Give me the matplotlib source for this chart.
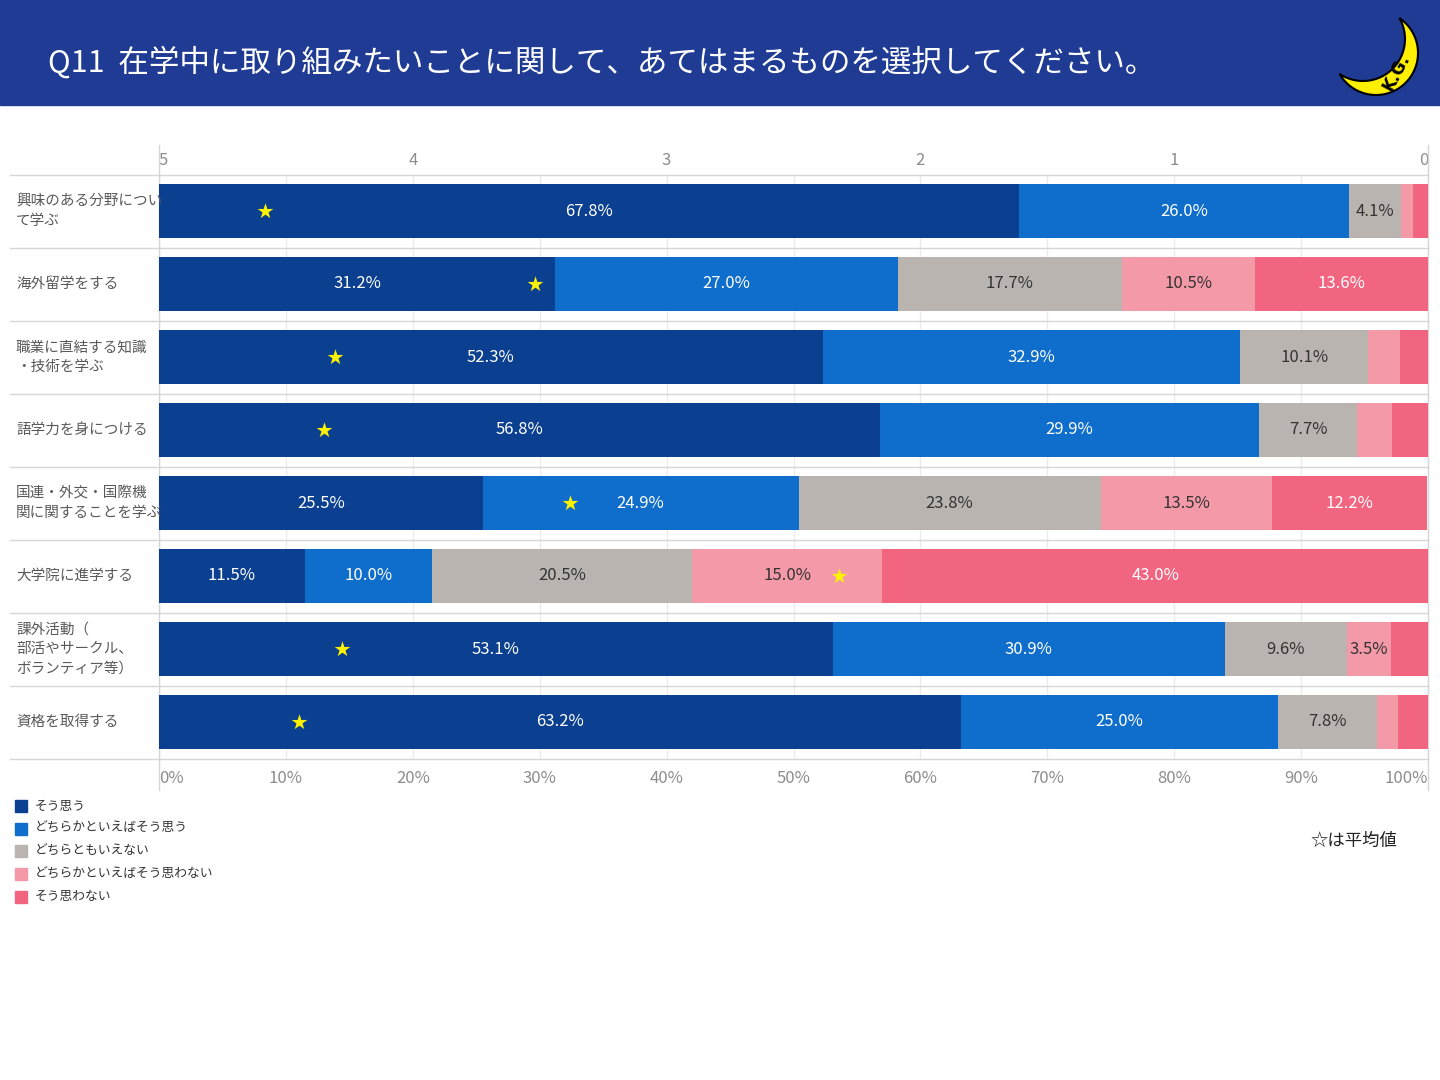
import matplotlib.pyplot as plt
import numpy as np
from matplotlib.patches import Rectangle, Polygon

plt.rcParams['font.family'] = ['Noto Sans CJK JP', 'DejaVu Sans']

# データ
title = 'Q11  在学中に取り組みたいことに関して、あてはまるものを選択してください。'
categories = ['興味のある分野につい\nて学ぶ', '海外留学をする', '職業に直結する知識\n・技術を学ぶ',
              '語学力を身につける', '国連・外交・国際機\n関に関することを学ぶ', '大学院に進学する',
              '課外活動（\n部活やサークル、\nボランティア等）', '資格を取得する']
levels = ['そう思う', 'どちらかといえばそう思う', 'どちらともいえない',
          'どちらかといえばそう思わない', 'そう思わない']
scores = [5, 4, 3, 2, 1]
agree = [67.8, 31.2, 52.3, 56.8, 25.5, 11.5, 53.1, 63.2]
rather_agree = [26.0, 27.0, 32.9, 29.9, 24.9, 10.0, 30.9, 25.0]
neutral = [4.1, 17.7, 10.1, 7.7, 23.8, 20.5, 9.6, 7.8]
rather_disagree = [0.9, 10.5, 2.5, 2.8, 13.5, 15.0, 3.5, 1.6]
disagree = [1.2, 13.6, 2.2, 2.8, 12.2, 43.0, 2.9, 2.4]
pct_ticks = list(range(0, 101, 10))
score_ticks = [5, 4, 3, 2, 1, 0]

series = [agree, rather_agree, neutral, rather_disagree, disagree]
colors = ['#0B3F8F', '#0F6DCB', '#BAB4B0', '#F499A8', '#F26581']
text_colors = ['white', 'white', '#333333', '#333333', 'white']
line_col = '#d6d6d6'

fig = plt.figure(figsize=(14.4, 10.8), dpi=100)

# 背景（ピクセル座標）
bg = fig.add_axes([0, 0, 1, 1])
bg.set_xlim(0, 1440)
bg.set_ylim(1080, 0)
bg.axis('off')

bg.add_patch(Rectangle((0, 0), 1440, 105, color='#1F3B94'))
bg.text(48, 62, title, color='white', fontsize=22, va='center', ha='left')

# ロゴ（三日月）
c1 = np.array([1376.0, 53.0])
c2 = np.array([1363.0, 39.0])
r = 42.0
mid = (c1 + c2) / 2
d = c1 - c2
dist = np.linalg.norm(d)
h = np.sqrt(r ** 2 - (dist / 2) ** 2)
perp = np.array([-d[1], d[0]]) / dist
pa, pb = mid + perp * h, mid - perp * h
th_d = np.arctan2(d[1], d[0])


def arc(c, p_from, p_to):
    a0 = np.angle(np.exp(1j * (np.arctan2(*(p_from - c)[::-1]) - th_d)))
    a1 = np.angle(np.exp(1j * (np.arctan2(*(p_to - c)[::-1]) - th_d)))
    t = np.linspace(a0, a1, 80) + th_d
    return np.column_stack([c[0] + r * np.cos(t), c[1] + r * np.sin(t)])


crescent = np.vstack([arc(c1, pa, pb), arc(c2, pb, pa)])
bg.add_patch(Polygon(crescent, closed=True, facecolor='#FFEF00', edgecolor='black', linewidth=1.5))
bg.text(1396, 72, 'K.G.', rotation=62, fontsize=12, ha='center', va='center',
        fontweight='bold', color='black', family=['DejaVu Sans'])

# 凡例
for i, (lab, col) in enumerate(zip(levels, colors)):
    yy = 806 + 22.7 * i
    bg.add_patch(Rectangle((15, yy - 6), 12, 12, color=col))
    bg.text(35, yy, lab, fontsize=9.2, va='center', ha='left', color='#333333')

bg.text(1310, 841, '☆は平均値', fontsize=12.5, va='center', ha='left', color='#222222')

# グラフ本体
n = len(categories)
ax = fig.add_axes([159 / 1440, 1 - 758.5 / 1080, 1269 / 1440, 584 / 1080])
ax.set_xlim(0, 100)
ax.set_ylim(n - 0.5, -0.5)
ax.patch.set_alpha(0)
for s in ax.spines.values():
    s.set_visible(False)

y = np.arange(n)
left = np.zeros(n)
for vals, col, tcol in zip(series, colors, text_colors):
    vals = np.array(vals)
    ax.barh(y, vals, left=left, height=0.75, color=col, zorder=2)
    for yi, v, l in zip(y, vals, left):
        if v >= 3:
            ax.text(l + v / 2, yi, f'{v:.1f}%', ha='center', va='center',
                    color=tcol, fontsize=12, zorder=3)
    left += vals

# 平均値（星）
vals_arr = np.array(series)
means = (np.array(scores)[:, None] * vals_arr).sum(axis=0) / vals_arr.sum(axis=0)
ax.scatter((5 - means) * 20, y, marker='*', s=140, color='#FFF200', linewidths=0, zorder=4)

# 区切り線
for b in np.arange(-0.5, n, 1.0):
    ax.axhline(b, xmin=-0.1174, xmax=1, color=line_col, lw=1, clip_on=False, zorder=1)
for xv in [0, 100]:
    ax.axvline(xv, ymin=-0.054, ymax=1.05, color=line_col, lw=1, clip_on=False, zorder=1)

ax.set_xticks(pct_ticks, labels=[f'{t}%' for t in pct_ticks])
ax.set_yticks([])
ax.grid(axis='x', color='#ebebeb', lw=1)
ax.set_axisbelow(True)
ax.tick_params(axis='x', length=0, labelsize=12, labelcolor='#8c8c8c', pad=8)
xl = ax.get_xticklabels()
xl[0].set_ha('left')
xl[-1].set_ha('right')

sec = ax.secondary_xaxis('top', functions=(lambda p: 5 - p / 20, lambda s: (5 - s) * 20))
sec.set_xticks(score_ticks, labels=[str(t) for t in score_ticks])
sec.tick_params(length=0, labelsize=12, labelcolor='#8c8c8c', pad=4)
for s in sec.spines.values():
    s.set_visible(False)
tl = sec.get_xticklabels()
tl[0].set_ha('left')
tl[-1].set_ha('right')

# 項目名
for yi, cat in zip(y, categories):
    ax.text(-0.1127, yi, cat, transform=ax.get_yaxis_transform(), ha='left', va='center',
            fontsize=10.5, color='#595959', linespacing=1.5)

plt.savefig('out.png', dpi=100, facecolor='white')
